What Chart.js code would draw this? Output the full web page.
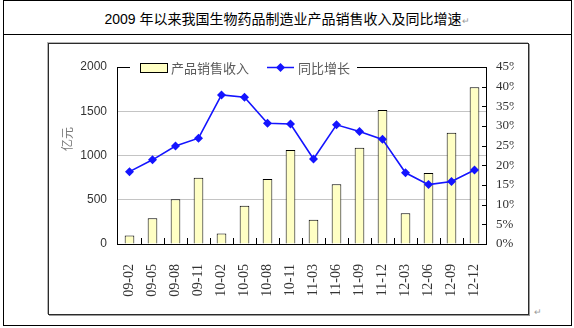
<!DOCTYPE html>
<html>
<head>
<meta charset="utf-8">
<script src="https://cdn.jsdelivr.net/npm/chart.js@4"></script>
<style>
  body { margin: 0; background: #fff; width: 574px; height: 328px; position: relative; overflow: hidden; }
  #outer { position: absolute; left: 3px; top: 0; width: 569px; height: 326px; box-sizing: border-box; border: 1px solid #000; }
  #rule { position: absolute; left: 3px; top: 34px; width: 569px; height: 1px; background: #000; }
  #title { position: absolute; left: 0; top: 8px; width: 574px; text-align: center; font: 14px "Liberation Sans", "Noto Sans CJK SC", sans-serif; color: #000; }
  #title .mark, #endmark { color: #9a9a9a; font-size: 9px; }
  #frame { position: absolute; left: 48px; top: 43px; width: 481px; height: 272px; box-sizing: border-box; border: 1px solid #2b2b2b; box-shadow: -1px -1px 0 #b5b5b5, 1px 1px 0 #9a9a9a; }
  #endmark { position: absolute; left: 534px; top: 307px; }
  canvas { position: absolute; left: 0; top: 0; }
</style>
</head>
<body>
<div id="outer"></div>
<div id="rule"></div>
<div id="title">2009 年以来我国生物药品制造业产品销售收入及同比增速<span class="mark">↵</span></div>
<div id="frame"></div>
<div id="endmark">↵</div>
<canvas id="chart" width="574" height="328"></canvas>
<script>
// quarterly points, yy-mm
const months = ['09-02', '09-05', '09-08', '09-11', '10-02', '10-05', '10-08', '10-11',
                '11-03', '11-06', '11-09', '11-12', '12-03', '12-06', '12-09', '12-12'];
// 产品销售收入, 亿元
const revenue = [95, 290, 505, 750, 120, 433, 734, 1062, 275, 674, 1088, 1514, 347, 802, 1258, 1770];
// 同比增长, %
const growth = [18.4, 21.4, 24.9, 26.9, 37.9, 37.3, 30.7, 30.5, 21.6, 30.3, 28.6, 26.6, 18.1, 15.1, 15.9, 18.8];
const revenueTicks = [0, 500, 1000, 1500, 2000];
const growthTicks = [0, 5, 10, 15, 20, 25, 30, 35, 40, 45];

const barFill = '#ffffc4';
const lineBlue = '#1414ff';
const cjk = '"Noto Sans CJK SC", sans-serif';

// plot frame, inward tick marks, axis title and the legend sitting on the top edge
const framePlugin = {
  id: 'framePlugin',
  afterDraw(chart) {
    const ctx = chart.ctx;
    const a = chart.chartArea;
    const x = chart.scales.x, y1 = chart.scales.y1;
    ctx.save();
    ctx.strokeStyle = '#000';
    ctx.lineWidth = 1;
    ctx.strokeRect(Math.round(a.left) - 0.5, Math.round(a.top) + 0.5,
                   Math.round(a.right - a.left) + 1, Math.round(a.bottom - a.top));

    ctx.beginPath();
    // category separators on the x axis, pointing up
    for (let i = 1; i < months.length; i++) {
      const px = Math.round((x.getPixelForValue(i - 1) + x.getPixelForValue(i)) / 2) + 0.5;
      ctx.moveTo(px, a.bottom);
      ctx.lineTo(px, a.bottom - 6);
    }
    // right axis ticks, pointing in
    growthTicks.forEach(v => {
      const py = Math.round(y1.getPixelForValue(v)) + 0.5;
      ctx.moveTo(Math.round(a.right), py);
      ctx.lineTo(Math.round(a.right) - 4, py);
    });
    ctx.stroke();

    // 亿元
    ctx.fillStyle = '#7a7a7a';
    ctx.font = '12px ' + cjk;
    ctx.textAlign = 'center';
    ctx.textBaseline = 'middle';
    ctx.translate(67.5, 139);
    ctx.rotate(-Math.PI / 2);
    ctx.fillText('亿元', 0, 0);
    ctx.setTransform(1, 0, 0, 1, 0, 0);

    // legend
    const ly = Math.round(a.top) + 0.5;
    const ds = chart.data.datasets;
    ctx.fillStyle = '#fff';
    ctx.fillRect(130, ly - 9, 227, 18);
    ctx.fillStyle = ds[0].backgroundColor;
    ctx.fillRect(140.5, ly - 4, 27, 9);
    ctx.strokeStyle = '#000';
    ctx.strokeRect(140.5, ly - 4, 27, 9);
    ctx.font = '13px ' + cjk;
    ctx.textAlign = 'left';
    ctx.fillStyle = '#5a5a5a';
    ctx.fillText(ds[0].label, 171, ly + 0.5);

    ctx.strokeStyle = ds[1].borderColor;
    ctx.lineWidth = 1.5;
    ctx.beginPath();
    ctx.moveTo(267, ly);
    ctx.lineTo(294, ly);
    ctx.stroke();
    ctx.fillStyle = ds[1].pointBackgroundColor;
    ctx.beginPath();
    ctx.moveTo(280.5, ly - 4.5);
    ctx.lineTo(285, ly);
    ctx.lineTo(280.5, ly + 4.5);
    ctx.lineTo(276, ly);
    ctx.closePath();
    ctx.fill();
    ctx.fillStyle = '#5a5a5a';
    ctx.fillText(ds[1].label, 298, ly + 0.5);
    ctx.restore();
  }
};

Chart.defaults.font.family = '"Liberation Sans", sans-serif';
Chart.defaults.color = '#333';

new Chart(document.getElementById('chart'), {
  type: 'bar',
  data: {
    labels: months,
    datasets: [{
      type: 'bar',
      label: '产品销售收入',
      data: revenue,
      yAxisID: 'y',
      backgroundColor: barFill,
      borderColor: '#000',
      borderWidth: 1,
      barPercentage: 0.42,
      categoryPercentage: 1,
      order: 2
    }, {
      type: 'line',
      label: '同比增长',
      data: growth,
      yAxisID: 'y1',
      borderColor: lineBlue,
      borderWidth: 1.6,
      pointStyle: 'rectRot',
      pointRadius: 4.5,
      pointBackgroundColor: lineBlue,
      pointBorderColor: lineBlue,
      pointBorderWidth: 0,
      tension: 0,
      order: 1
    }]
  },
  options: {
    responsive: false,
    animation: false,
    layout: { padding: { left: 60, right: 60, top: 67, bottom: 0 } },
    plugins: {
      legend: { display: false },
      tooltip: { enabled: false }
    },
    scales: {
      x: {
        grid: { display: false },
        border: { display: false },
        ticks: {
          autoSkip: false,
          minRotation: 90,
          maxRotation: 90,
          padding: 12,
          color: '#333',
          font: { family: '"Liberation Serif", serif', size: 14 }
        },
        afterFit(s) { s.height = 84; }
      },
      y: {
        position: 'left',
        min: 0,
        max: 2000,
        afterBuildTicks(s) { s.ticks = revenueTicks.map(v => ({ value: v })); },
        grid: { color: '#c4c4c4', drawTicks: false },
        border: { display: false },
        ticks: { padding: 11, font: { size: 12 }, color: '#333', callback: v => String(v) },
        afterFit(s) { s.width = 58; }
      },
      y1: {
        position: 'right',
        min: 0,
        max: 45,
        afterBuildTicks(s) { s.ticks = growthTicks.map(v => ({ value: v })); },
        grid: { drawOnChartArea: false, drawTicks: false },
        border: { display: false },
        ticks: {
          padding: 10,
          color: '#333',
          font: { family: '"Liberation Serif", serif', size: 13 },
          callback: v => v + '%'
        },
        afterFit(s) { s.width = 28; }
      }
    }
  },
  plugins: [framePlugin]
});
</script>
</body>
</html>
